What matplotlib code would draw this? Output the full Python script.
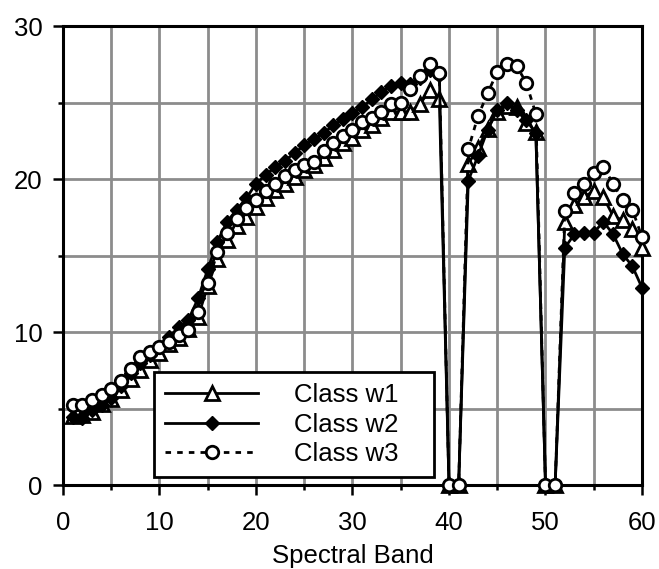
import numpy as np
import matplotlib
matplotlib.use('Agg')
import matplotlib.pyplot as plt
from matplotlib.ticker import MultipleLocator

plt.rcParams['font.family'] = ['Liberation Sans', 'DejaVu Sans']

# Mean spectral response per band for each class
bands = np.arange(1, 61)

class_w1 = [4.5, 4.6, 4.8, 5.3, 5.6, 6.2, 6.9, 7.5, 8.2, 8.6,
            9.2, 9.6, 10.2, 11.0, 13.0, 14.8, 16.0, 16.9, 17.5, 18.2,
            18.75, 19.3, 19.7, 20.1, 20.6, 20.9, 21.35, 21.9, 22.35, 22.7,
            23.2, 23.5, 24.0, 24.4, 24.4, 24.4, 24.9, 25.8, 25.2, 0.0,
            0.0, 21.0, 22.0, 23.3, 24.4, 24.8, 24.7, 23.65, 23.1, 0.0,
            0.0, 17.2, 18.3, 18.85, 19.2, 18.8, 17.6, 17.3, 16.7, 15.5]

class_w2 = [4.45, 4.4, 4.9, 5.2, 5.7, 6.5, 7.3, 8.0, 8.5, 9.0,
            9.7, 10.3, 10.8, 12.2, 14.1, 15.9, 17.2, 18.0, 18.75, 19.7,
            20.25, 20.8, 21.2, 21.7, 22.2, 22.6, 23.0, 23.5, 23.9, 24.3,
            24.7, 25.2, 25.7, 26.1, 26.3, 26.2, 26.6, 27.1, 26.8, 0.0,
            0.0, 19.9, 21.5, 23.2, 24.5, 25.0, 24.5, 23.85, 23.0, 0.0,
            0.0, 15.5, 16.4, 16.5, 16.5, 17.2, 16.4, 15.1, 14.3, 12.9]

class_w3 = [5.2, 5.2, 5.55, 5.9, 6.3, 6.8, 7.6, 8.35, 8.7, 9.0,
            9.35, 9.8, 10.1, 11.3, 13.2, 15.2, 16.5, 17.4, 18.1, 18.6,
            19.2, 19.7, 20.2, 20.6, 20.9, 21.1, 21.8, 22.35, 22.8, 23.2,
            23.7, 24.0, 24.4, 24.9, 24.95, 25.9, 26.7, 27.5, 26.9, 0.0,
            0.0, 21.95, 24.1, 25.6, 27.0, 27.5, 27.4, 26.3, 24.25, 0.0,
            0.0, 17.9, 19.1, 19.7, 20.4, 20.8, 19.7, 18.6, 18.0, 16.2]

fig = plt.figure(figsize=(6.59, 5.69), dpi=100)
ax = fig.add_axes([0.0956, 0.1476, 0.8786, 0.8067])

ax.plot(bands, class_w1, color='black', lw=2, marker='^', ms=9.5,
        mfc='white', mec='black', mew=2, label='Class w1', clip_on=False, zorder=3)
ax.plot(bands, class_w2, color='black', lw=2, marker='D', ms=7.5,
        mfc='black', mec='black', label='Class w2', clip_on=False, zorder=4)
ax.plot(bands, class_w3, color='black', lw=2, ls=(0, (2, 2.2)), marker='o', ms=9,
        mfc='white', mec='black', mew=2, label='Class w3', clip_on=False, zorder=5)

ax.set_xlim(0, 60)
ax.set_ylim(0, 30)
ax.xaxis.set_major_locator(MultipleLocator(10))
ax.xaxis.set_minor_locator(MultipleLocator(5))
ax.yaxis.set_major_locator(MultipleLocator(10))
ax.yaxis.set_minor_locator(MultipleLocator(5))

ax.grid(True, which='both', color='#8c8c8c', lw=2, zorder=0)
ax.set_axisbelow(True)

for side in ['left', 'right', 'top', 'bottom']:
    ax.spines[side].set_linewidth(2.2)
    ax.spines[side].set_color('black')

ax.tick_params(which='major', direction='out', length=7.5, width=1.8,
               labelsize=18.5, top=False, right=False)
ax.tick_params(which='minor', direction='out', length=3.6, width=1.8,
               top=False, right=False)
ax.tick_params(axis='x', which='major', pad=11)
ax.tick_params(axis='y', which='major', pad=7)

ax.set_xlabel('Spectral Band', fontsize=18.5, labelpad=7)

# legend box stretched to a fixed width, sitting just above the x axis
leg = ax.legend(loc='lower left', bbox_to_anchor=(0.157, 0.017, 0.484, 0.22),
                mode='expand', borderaxespad=0,
                fontsize=18.5, handlelength=3.6, handletextpad=1.4,
                labelspacing=0.2, borderpad=0.45,
                fancybox=False, framealpha=1, edgecolor='black')
leg.get_frame().set_linewidth(2)
leg.set_zorder(10)

fig.savefig('out.png', dpi=100)
